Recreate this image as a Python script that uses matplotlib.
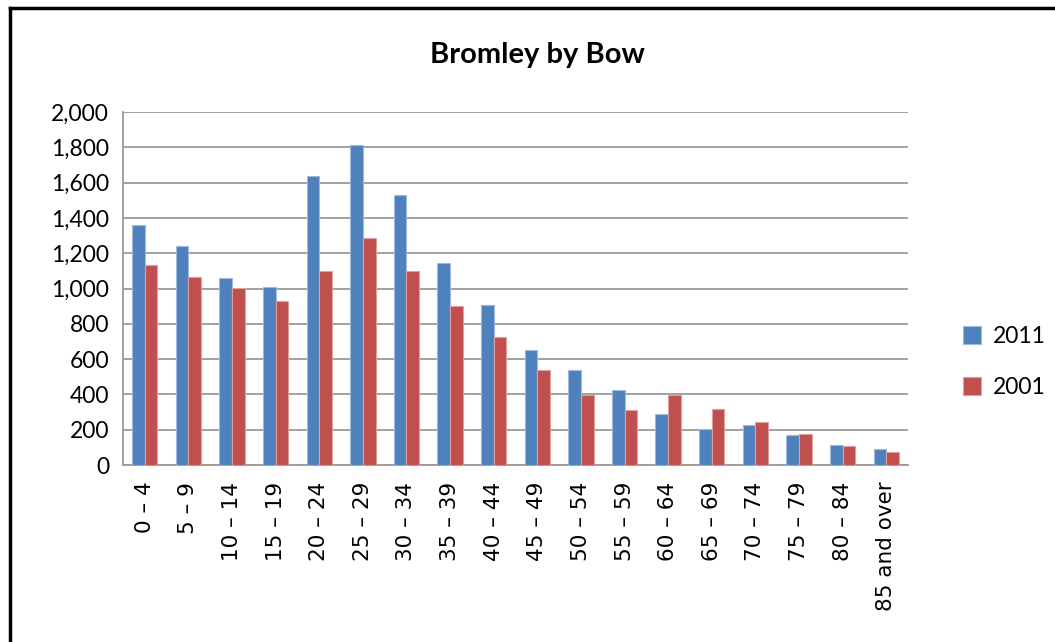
import matplotlib
matplotlib.use('Agg')
import matplotlib.pyplot as plt
import numpy as np

age_groups = ['0 – 4', '5 – 9', '10 – 14', '15 – 19', '20 – 24', '25 – 29', '30 – 34',
              '35 – 39', '40 – 44', '45 – 49', '50 – 54', '55 – 59', '60 – 64', '65 – 69',
              '70 – 74', '75 – 79', '80 – 84', '85 and over']
pop_2011 = [1362, 1243, 1058, 1010, 1635, 1811, 1529, 1147, 906, 651, 539, 426, 291, 202, 227, 170, 114, 90]
pop_2001 = [1131, 1067, 1001, 931, 1097, 1285, 1097, 899, 723, 539, 399, 314, 399, 316, 242, 177, 107, 74]

blue = '#4F81BD'
red = '#C0504D'

fig = plt.figure(figsize=(10.55, 6.42), dpi=100, facecolor='white')
ax = fig.add_axes([123 / 1055, 1 - 465 / 642, (908 - 123) / 1055, (465 - 112) / 642])

x = np.arange(len(age_groups))
w = 0.29
ax.bar(x - w / 2, pop_2011, w, color=blue, edgecolor='#9DB9DE', linewidth=0.8, label='2011', zorder=3)
ax.bar(x + w / 2, pop_2001, w, color=red, edgecolor='#E0A09E', linewidth=0.8, label='2001', zorder=3)

ax.set_xlim(-0.5, len(age_groups) - 0.5)
ax.set_ylim(0, 2000)
ax.set_yticks(range(0, 2001, 200))
ax.set_yticklabels([f'{v:,}' for v in range(0, 2001, 200)], family='Lato', fontsize=16.5)
ax.set_xticks(x)
ax.set_xticklabels(age_groups, rotation=90, family='DejaVu Sans', fontsize=15.5)
ax.tick_params(axis='x', length=0, pad=12)
ax.tick_params(axis='y', length=0, pad=10)

ax.grid(axis='y', color='#9A9A9A', linewidth=1.3, zorder=0)
for side in ['top', 'right']:
    ax.spines[side].set_visible(False)
for side in ['left', 'bottom']:
    ax.spines[side].set_color('#9A9A9A')
    ax.spines[side].set_linewidth(1.3)

fig.text(537 / 1055, 1 - 55 / 642, 'Bromley by Bow', ha='center', va='center',
         family='Lato', fontweight='bold', fontsize=21)

ax.legend(loc='center left', bbox_to_anchor=(942 / 1055, 1 - 362 / 642), bbox_transform=fig.transFigure,
          frameon=False, prop={'family': 'Lato', 'size': 16.5}, handlelength=0.8, handleheight=0.8,
          labelspacing=1.3, handletextpad=0.5)

# outer chart border
fig.add_artist(plt.Line2D([10 / 1055, 10 / 1055], [0, 1 - 8 / 642], color='black', linewidth=2.5,
                          transform=fig.transFigure))
fig.add_artist(plt.Line2D([10 / 1055, 1], [1 - 8 / 642, 1 - 8 / 642], color='black', linewidth=2.5,
                          transform=fig.transFigure))

fig.savefig('out.png', dpi=100, facecolor='white')
